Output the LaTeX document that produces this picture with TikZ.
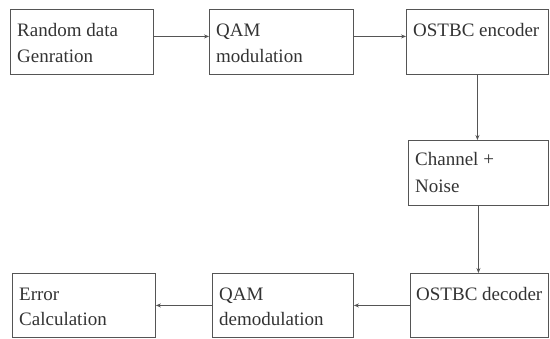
\documentclass[tikz,border=0pt]{standalone}
\usepackage{fontspec}
\setmainfont{Liberation Serif}
\usetikzlibrary{arrows.meta}
\definecolor{linec}{HTML}{555555}
\definecolor{textc}{HTML}{333333}
\begin{document}
\begin{tikzpicture}[x=1pt,y=-1pt,
  blk/.style={draw=linec, line width=0.9pt, rectangle, inner sep=0pt, anchor=north west},
  lbl/.style={anchor=base west, inner sep=0pt, text=textc, font=\fontsize{19}{26}\selectfont},
  conn/.style={draw=linec, line width=0.8pt, -{Stealth[length=5pt,width=4pt]}}]
\useasboundingbox (0,0) rectangle (550,339);
% top row
\node[blk, minimum width=143pt, minimum height=65pt] (gen) at (10,9) {};
\node[blk, minimum width=144pt, minimum height=65pt] (qam) at (209,9) {};
\node[blk, minimum width=142pt, minimum height=65pt] (enc) at (406,9) {};
% channel
\node[blk, minimum width=140pt, minimum height=65pt] (chan) at (408,140) {};
% bottom row
\node[blk, minimum width=138pt, minimum height=64pt] (dec) at (410,273) {};
\node[blk, minimum width=141pt, minimum height=64pt] (dem) at (212,273) {};
\node[blk, minimum width=143pt, minimum height=64pt] (err) at (12,273) {};
% labels
\node[lbl] (t1a) at (17,37) {Random data};
\node[lbl] (t1b) at (17,63) {Genration};
\node[lbl] (t2a) at (216,37) {QAM};
\node[lbl] (t2b) at (216,63) {modulation};
\node[lbl] (t3a) at (413,37) {OSTBC encoder};
\node[lbl] (t4a) at (415,166) {Channel +};
\node[lbl] (t4b) at (415,193) {Noise};
\node[lbl] (t5a) at (416,301) {OSTBC decoder};
\node[lbl] (t6a) at (219,301) {QAM};
\node[lbl] (t6b) at (219,326) {demodulation};
\node[lbl] (t7a) at (19,301) {Error};
\node[lbl] (t7b) at (19,326) {Calculation};
% connectors
\draw[conn] ([yshift=5.5pt]gen.east) -- ([yshift=5.5pt]qam.west);
\draw[conn] ([yshift=5.5pt]qam.east) -- ([yshift=5.5pt]enc.west);
\draw[conn] (enc.south) -- (enc.south |- chan.north);
\draw[conn] (chan.south) -- (chan.south |- dec.north);
\draw[conn] (dec.west) -- (dem.east);
\draw[conn] (dem.west) -- (err.east);
\end{tikzpicture}
\end{document}
